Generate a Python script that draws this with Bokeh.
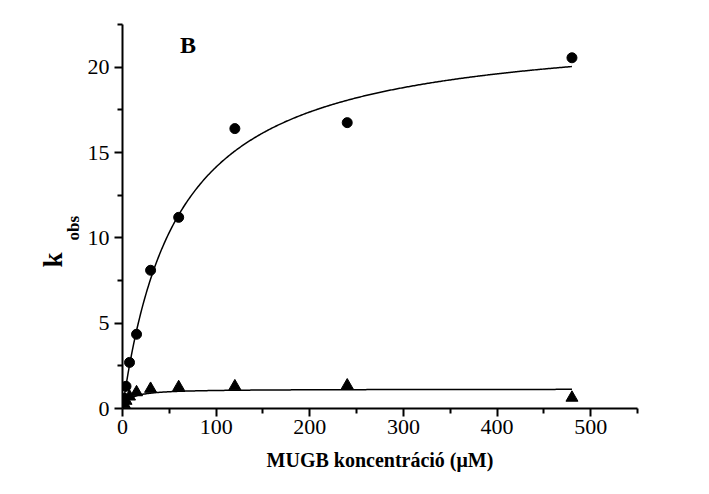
import numpy as np
from bokeh.plotting import figure
from bokeh.models import Range1d, FixedTicker, Label, Title
from bokeh.embed import file_html
from bokeh.resources import INLINE

# Data
circ_x = [1.875, 3.75, 7.5, 15, 30, 60, 120, 240, 480]
circ_y = [0.6, 1.3, 2.7, 4.35, 8.1, 11.2, 16.4, 16.75, 20.55]
tri_x = [1.875, 3.75, 7.5, 15, 30, 60, 120, 240, 480]
tri_y = [0.25, 0.45, 0.7, 0.95, 1.15, 1.25, 1.3, 1.35, 0.63]

x_ticks = [0, 100, 200, 300, 400, 500]
x_minor = [50, 150, 250, 350, 450, 550]
y_ticks = [0, 5, 10, 15, 20]
y_minor = [2.5, 7.5, 12.5, 17.5, 22.5]

# Michaelis-Menten fit parameters (Vmax, Km) for the two series
circ_fit = (22.5, 59.0)
tri_fit = (1.14, 8.0)

FONT = "Liberation Serif"

p = figure(width=709, height=494, output_backend="svg", toolbar_location=None,
           x_range=Range1d(0, 550), y_range=Range1d(0, 22.5),
           min_border_left=122, min_border_right=72, min_border_top=24, min_border_bottom=86)
p.outline_line_color = None
p.xgrid.visible = False
p.ygrid.visible = False

# fitted curves
xf = np.linspace(0, 480, 400)
p.line(xf, circ_fit[0] * xf / (circ_fit[1] + xf), line_color="black", line_width=1.5)
p.line(xf, tri_fit[0] * xf / (tri_fit[1] + xf), line_color="black", line_width=1.5)

p.scatter(circ_x, circ_y, marker="circle", size=10, fill_color="black", line_color="black")
p.scatter(tri_x, tri_y, marker="triangle", size=12, fill_color="black", line_color="black")

for ax in (p.xaxis[0], p.yaxis[0]):
    ax.axis_line_width = 2
    ax.major_tick_line_width = 2
    ax.minor_tick_line_width = 2
    ax.major_tick_out = 8
    ax.major_tick_in = 0
    ax.minor_tick_out = 5
    ax.minor_tick_in = 0
    ax.major_label_text_font = FONT
    ax.major_label_text_font_size = "22px"
    ax.major_label_text_color = "black"
    ax.axis_label_text_font = FONT
    ax.axis_label_text_font_style = "bold"
    ax.axis_label_text_color = "black"

p.xaxis[0].ticker = FixedTicker(ticks=x_ticks, minor_ticks=x_minor)
p.yaxis[0].ticker = FixedTicker(ticks=y_ticks, minor_ticks=y_minor)
p.xaxis[0].axis_label = "MUGB koncentráció (μM)"
p.xaxis[0].axis_label_text_font_size = "20px"
p.xaxis[0].axis_label_standoff = 12
p.xaxis[0].major_label_standoff = 3
p.yaxis[0].major_label_standoff = 5

p.add_layout(Label(x=70, y=21.3, text="B", text_font=FONT, text_font_style="bold",
                   text_color="black",
                   text_font_size="24px", text_align="center", text_baseline="middle"))

# y-axis label "k" with subscript "obs", as two side titles
p.add_layout(Title(text="obs", align="left", offset=168, standoff=4,
                   text_font=FONT, text_font_style="bold", text_color="black",
                   text_font_size="17px"), "left")
p.add_layout(Title(text="k", align="left", offset=141, standoff=-17,
                   text_font=FONT, text_font_style="bold", text_color="black",
                   text_font_size="27px"), "left")

open("out.html", "w").write(file_html(p, INLINE))
